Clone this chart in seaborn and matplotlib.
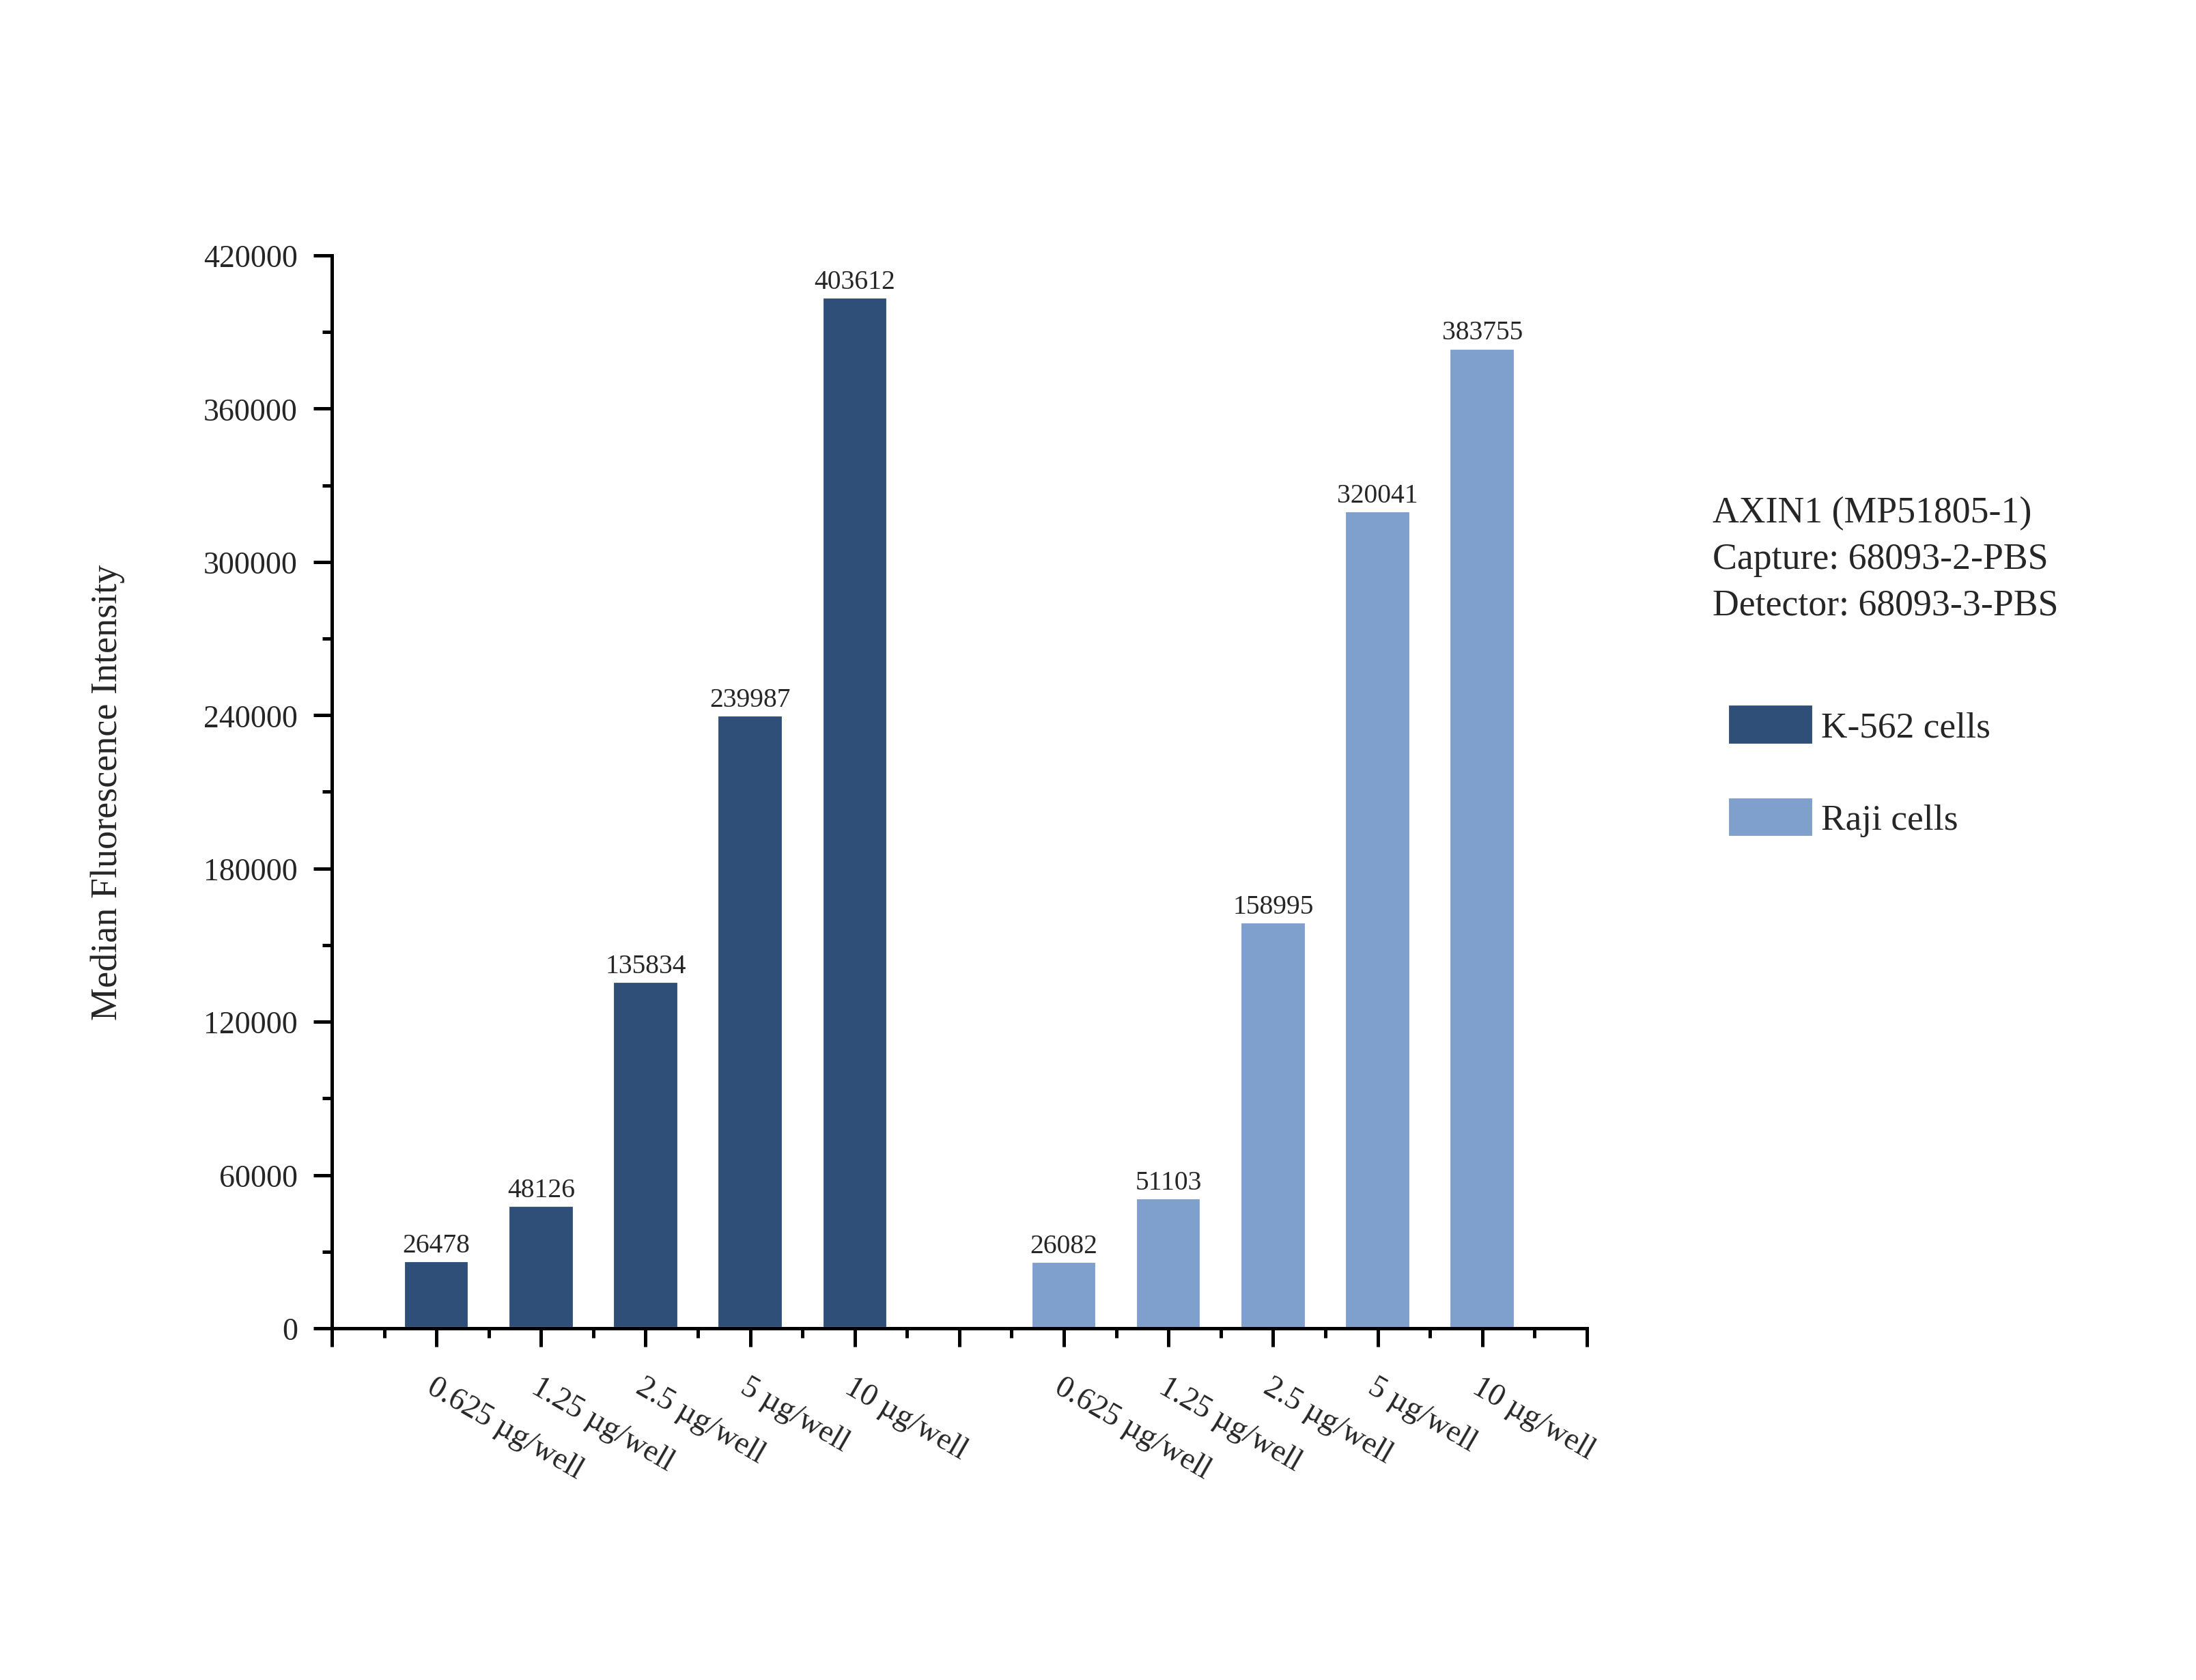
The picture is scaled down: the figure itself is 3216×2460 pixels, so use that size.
import pandas as pd
import numpy as np
from matplotlib import pyplot as plt
from matplotlib.ticker import FixedLocator, MultipleLocator
import seaborn as sns

# values
doses = ["0.625 µg/well", "1.25 µg/well", "2.5 µg/well", "5 µg/well", "10 µg/well"]
k562_values = [26478, 48126, 135834, 239987, 403612]
raji_values = [26082, 51103, 158995, 320041, 383755]
k562_pos = [1, 2, 3, 4, 5]
raji_pos = [7, 8, 9, 10, 11]
cell_lines = ["K-562 cells", "Raji cells"]
palette = {"K-562 cells": "#2F4F78", "Raji cells": "#7F9FCC"}
info_lines = ["AXIN1 (MP51805-1)", "Capture: 68093-2-PBS", "Detector: 68093-3-PBS"]

sns.set_style("ticks")
plt.rcParams['font.family'] = ['Liberation Serif', 'DejaVu Serif']

df = pd.DataFrame({
    "pos": k562_pos + raji_pos,
    "value": k562_values + raji_values,
    "cells": [cell_lines[0]] * len(k562_values) + [cell_lines[1]] * len(raji_values),
})

fig = plt.figure(figsize=(10.72, 8.2033), dpi=300)
ax = fig.add_axes([0.1511, 0.2093, 0.5715, 0.6383])

sns.barplot(data=df, x="pos", y="value", hue="cells", palette=palette,
            native_scale=True, dodge=False, width=0.63, saturation=1,
            errorbar=None, ax=ax)

for container in ax.containers:
    ax.bar_label(container, fmt='%d', padding=1, fontsize=9.5)

sns.despine(ax=ax)
for side in ["left", "bottom"]:
    ax.spines[side].set_linewidth(1.2)
    ax.spines[side].set_color("black")

ax.set_xlim(0, 12)
ax.set_ylim(0, 420000)
ax.xaxis.set_major_locator(FixedLocator(list(range(13))))
ax.set_xticklabels([""] + doses + [""] + doses + [""], rotation=-30,
                   ha='left', rotation_mode='anchor')
ax.xaxis.set_minor_locator(MultipleLocator(0.5))
ax.yaxis.set_major_locator(MultipleLocator(60000))
ax.yaxis.set_minor_locator(MultipleLocator(30000))
ax.tick_params(which='major', length=6.5, width=1.2, direction='out',
               labelsize=11, pad=5.5, color='black')
ax.tick_params(which='minor', length=3.3, width=1.2, direction='out', color='black')
ax.tick_params(axis='x', which='major', pad=9)

ax.set_xlabel("")
ax.set_ylabel("Median Fluorescence Intensity", fontsize=13)
ax.yaxis.set_label_coords(-0.165, 0.5)

sns.move_legend(ax, loc='upper left', bbox_to_anchor=(0.7785, 0.5915),
                bbox_transform=fig.transFigure, frameon=False, title=None,
                fontsize=12.8, handlelength=2.35, handleheight=1.35,
                handletextpad=0.22, labelspacing=1.42, borderpad=0)

for y, line in zip([0.6945, 0.667, 0.6395], info_lines):
    fig.text(0.7799, y, line, fontsize=12.9, va='center', ha='left')

fig.savefig("out.png", dpi=300)
